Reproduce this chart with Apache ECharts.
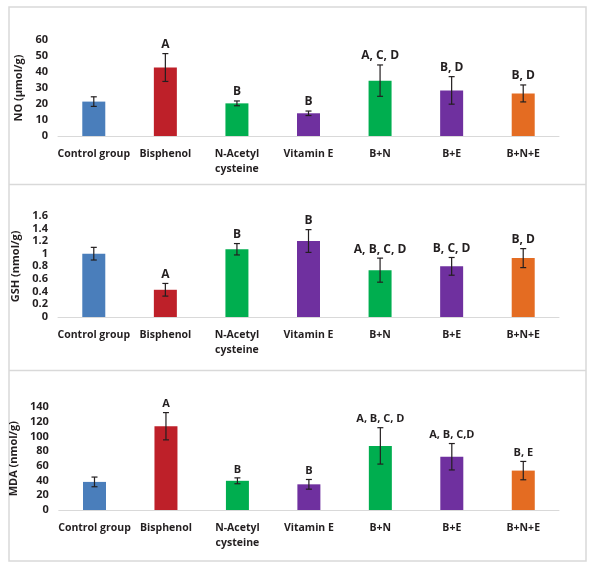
<!DOCTYPE html>
<html>
<head>
<meta charset="utf-8">
<script src="https://cdn.jsdelivr.net/npm/echarts@6/dist/echarts.min.js"></script>
<style>html,body{margin:0;padding:0;background:#fff;}#c{width:595px;height:568px;}</style>
</head>
<body>
<div id="c"></div>
<script>
var categories = ['Control group', 'Bisphenol', 'N-Acetyl\ncysteine', 'Vitamin E', 'B+N', 'B+E', 'B+N+E'];
var barColors = ['#4a7ebb', '#be2029', '#00ae4f', '#6f309f', '#00ae4f', '#6f309f', '#e46c22'];

var noMean = [21.5, 42.8, 20.4, 14.2, 34.6, 28.5, 26.6];
var noErr = [3.0, 8.7, 1.5, 1.4, 9.8, 8.6, 5.3];
var noLetters = ['', 'A', 'B', 'B', 'A, C, D', 'B, D', 'B, D'];
var noTicks = [0, 60, 10];

var gshMean = [1.0, 0.43, 1.07, 1.2, 0.74, 0.8, 0.93];
var gshErr = [0.1, 0.1, 0.09, 0.18, 0.19, 0.14, 0.15];
var gshLetters = ['', 'A', 'B', 'B', 'A, B, C, D', 'B, C, D', 'B, D'];
var gshTicks = [0, 1.6, 0.2];

var mdaMean = [38.3, 114.2, 39.8, 35.0, 87.4, 72.6, 53.7];
var mdaErr = [6.6, 18.6, 4.0, 6.6, 24.8, 18.0, 12.5];
var mdaLetters = ['', 'A', 'B', 'B', 'A, B, C, D', 'A, B, C,D', 'B, E'];
var mdaTicks = [0, 140, 20];

var panels = [
  {name: 'NO (µmol/g)', mean: noMean, err: noErr, letters: noLetters, ticks: noTicks, top: 40, bottom: 432, lf: 12},
  {name: 'GSH (nmol/g)', mean: gshMean, err: gshErr, letters: gshLetters, ticks: gshTicks, top: 215.7, bottom: 251, lf: 12},
  {name: 'MDA (nmol/g)', mean: mdaMean, err: mdaErr, letters: mdaLetters, ticks: mdaTicks, top: 407.3, bottom: 58, lf: 11}
];

var FONT = '"Open Sans", "DejaVu Sans", sans-serif';
var grids = [], xAxes = [], yAxes = [], series = [];

panels.forEach(function (p, k) {
  grids.push({left: 58, right: 36, top: p.top, bottom: p.bottom, containLabel: false});
  xAxes.push({
    type: 'category', gridIndex: k, data: categories,
    axisLine: {lineStyle: {color: '#d9d9d9', width: 1}},
    axisTick: {show: false},
    axisLabel: {color: '#231f20', fontFamily: FONT, fontWeight: 'bold', fontSize: 10.5, margin: 11, lineHeight: 15, interval: 0}
  });
  yAxes.push({
    type: 'value', gridIndex: k, min: p.ticks[0], max: p.ticks[1], interval: p.ticks[2],
    name: p.name, nameLocation: 'middle', nameGap: 26, nameRotate: 90,
    nameTextStyle: {color: '#231f20', fontFamily: FONT, fontWeight: 'bold', fontSize: 11},
    axisLine: {show: false}, axisTick: {show: false}, splitLine: {show: false},
    axisLabel: {color: '#231f20', fontFamily: FONT, fontWeight: 'bold', fontSize: 11, margin: 10}
  });
  series.push({
    type: 'bar', xAxisIndex: k, yAxisIndex: k, barWidth: 23,
    data: p.mean.map(function (v, i) { return {value: v, itemStyle: {color: barColors[i]}}; }),
    silent: true, animation: false
  });
  series.push({
    type: 'custom', xAxisIndex: k, yAxisIndex: k, animation: false, silent: true,
    data: p.mean.map(function (v, i) { return [i, v, p.err[i]]; }),
    z: 10,
    renderItem: (function (letters, lf) {
      return function (params, api) {
        var x = api.value(0), m = api.value(1), e = api.value(2);
        var top = api.coord([x, m + e]);
        var bot = api.coord([x, m - e]);
        var cw = 3;
        var st = {stroke: '#231f20', lineWidth: 1.2};
        var children = [
          {type: 'line', shape: {x1: top[0], y1: top[1], x2: bot[0], y2: bot[1]}, style: st},
          {type: 'line', shape: {x1: top[0] - cw, y1: top[1], x2: top[0] + cw, y2: top[1]}, style: st},
          {type: 'line', shape: {x1: bot[0] - cw, y1: bot[1], x2: bot[0] + cw, y2: bot[1]}, style: st}
        ];
        var t = letters[params.dataIndex];
        if (t) {
          children.push({type: 'text', style: {text: t, x: top[0], y: top[1] - 3, align: 'center', verticalAlign: 'bottom',
            fontSize: lf, fontWeight: 'bold', fontFamily: FONT, fill: '#231f20'}});
        }
        return {type: 'group', children: children};
      };
    })(p.letters, p.lf)
  });
});

var frameStyle = {stroke: '#d9d9d9', lineWidth: 1.5, fill: null};
var chart = echarts.init(document.getElementById('c'), null, {renderer: 'canvas'});
chart.setOption({
  animation: false,
  backgroundColor: '#fff',
  grid: grids, xAxis: xAxes, yAxis: yAxes, series: series,
  graphic: [
    {type: 'rect', shape: {x: 9, y: 7, width: 577, height: 554}, style: frameStyle, silent: true},
    {type: 'line', shape: {x1: 9, y1: 184.5, x2: 586, y2: 184.5}, style: frameStyle, silent: true},
    {type: 'line', shape: {x1: 9, y1: 370.5, x2: 586, y2: 370.5}, style: frameStyle, silent: true}
  ]
});
</script>
</body>
</html>
